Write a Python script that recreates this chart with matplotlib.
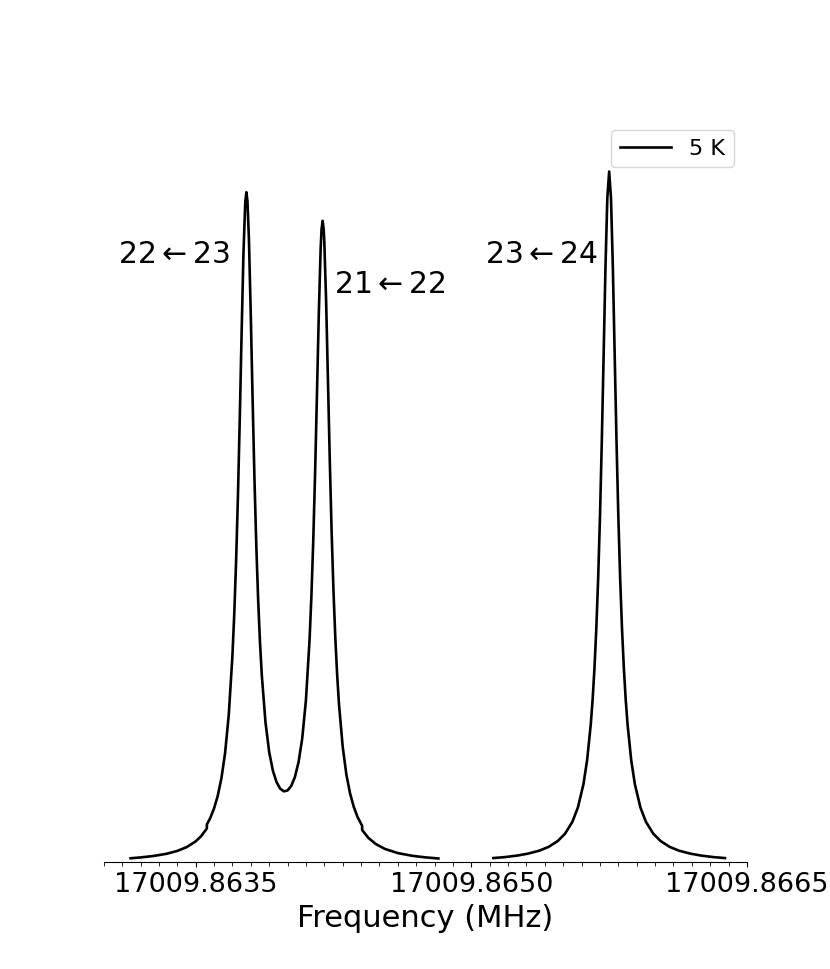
import matplotlib
matplotlib.use("Agg")
import matplotlib.pyplot as plt
from matplotlib.ticker import MultipleLocator, FormatStrFormatter

# frequency offsets in units of 1e-5 MHz from F0, intensities normalised
F0 = 17009.8630
seg1_off = [14.6, 20, 27, 34, 40, 45, 50, 53, 56.1, 56.1, 58, 60, 62, 64, 66, 68,
            70, 71, 72, 73, 74, 75, 76, 77, 77.6, 78.2, 79, 80, 81, 82, 83, 84, 85,
            86, 88, 90, 92, 94, 96, 98, 100, 102, 104, 106, 108, 110, 112, 113, 114,
            115, 116, 117, 118, 118.5, 119.1, 119.7, 120, 121, 122, 123, 124, 125,
            126, 127, 128, 130, 132, 134, 136, 138, 140.6, 140.6, 144, 148, 153, 160,
            168, 175, 182.1]
seg1_int = [0.0060, 0.0072, 0.0093, 0.0124, 0.0166, 0.0220, 0.0304, 0.0380, 0.0491,
            0.0548, 0.0646, 0.0780, 0.0961, 0.1214, 0.1579, 0.2129, 0.2985, 0.3588,
            0.4347, 0.5289, 0.6414, 0.7649, 0.8803, 0.9561, 0.9701, 0.9569, 0.9014,
            0.7925, 0.6699, 0.5556, 0.4589, 0.3809, 0.3192, 0.2708, 0.2028, 0.1600,
            0.1331, 0.1163, 0.1067, 0.1029, 0.1041, 0.1107, 0.1235, 0.1452, 0.1796,
            0.2345, 0.3231, 0.3864, 0.4661, 0.5639, 0.6769, 0.7930, 0.8872, 0.9161,
            0.9287, 0.9153, 0.8994, 0.8120, 0.6967, 0.5804, 0.4777, 0.3930, 0.3251,
            0.2714, 0.2288, 0.1677, 0.1275, 0.1001, 0.0807, 0.0663, 0.0529, 0.0469,
            0.0355, 0.0266, 0.0195, 0.0135, 0.0095, 0.0073, 0.0057]
seg2_off = [212, 218, 225, 231, 237, 242, 247, 251, 255, 258, 261, 263, 265, 266,
            267, 268, 269, 270, 271, 272, 273, 274, 275, 276, 277, 278, 279, 280,
            281, 282, 283, 284, 285, 287, 289, 292, 295, 299, 303, 308, 313, 319,
            325, 332, 338]
seg2_int = [0.0063, 0.0076, 0.0099, 0.0128, 0.0170, 0.0224, 0.0309, 0.0416, 0.0588,
            0.0796, 0.1131, 0.1479, 0.2000, 0.2358, 0.2809, 0.3378, 0.4098, 0.5000,
            0.6098, 0.7353, 0.8621, 0.9615, 1.0000, 0.9615, 0.8621, 0.7353, 0.6098,
            0.5000, 0.4098, 0.3378, 0.2809, 0.2358, 0.2000, 0.1479, 0.1131, 0.0796,
            0.0588, 0.0416, 0.0309, 0.0224, 0.0170, 0.0128, 0.0099, 0.0076, 0.0063]

# transition labels: (text, peak offset, label height, x shift in points, alignment)
labels = [(r"$22\leftarrow23$", 77.6, 0.88, -12, "right"),
          (r"$21\leftarrow22$", 119.1, 0.836, 8, "left"),
          (r"$23\leftarrow24$", 275.0, 0.88, -8, "right")]

fig, ax = plt.subplots(figsize=(8.3, 9.69), dpi=100)

f1 = [F0 + o * 1e-5 for o in seg1_off]
f2 = [F0 + o * 1e-5 for o in seg2_off]
ax.plot(f1, seg1_int, color="black", lw=1.9, label="5 K")
ax.plot(f2, seg2_int, color="black", lw=1.9)

for txt, off, h, dx, ha in labels:
    ax.annotate(txt, xy=(F0 + off * 1e-5, h), xytext=(dx, 0),
                textcoords="offset points", ha=ha, va="center", fontsize=21.5)

ax.set_xlim(17009.8630, 17009.8665)
ax.set_ylim(0, 1.08)
ax.xaxis.set_major_locator(MultipleLocator(0.0015))
ax.xaxis.set_minor_locator(MultipleLocator(0.0001))
ax.xaxis.set_major_formatter(FormatStrFormatter("%.4f"))
ax.tick_params(axis="x", labelsize=19.5)
ax.tick_params(axis="x", which="minor", length=3)
ax.set_yticks([])
for side in ["left", "top", "right"]:
    ax.spines[side].set_visible(False)
ax.set_xlabel("Frequency (MHz)", fontsize=22)
ax.legend(loc="upper right", fontsize=16, handlelength=2.3, borderaxespad=0.6)

fig.savefig("out.png")
